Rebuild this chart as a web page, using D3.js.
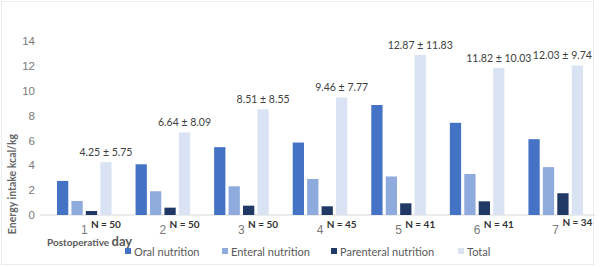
<!DOCTYPE html>
<html lang="en">
<head>
<meta charset="UTF-8">
<title>Energy intake by postoperative day</title>
<script src="https://cdnjs.cloudflare.com/ajax/libs/d3/7.8.5/d3.min.js"></script>
<style>
  * { margin: 0; padding: 0; box-sizing: border-box; }
  body { background: #fff; font-family: Lato, "Open Sans", "Liberation Sans", sans-serif; }
  #chart { width: 600px; height: 267px; }
  .tick text { fill: #7a7a7a; font-size: 11.5px; }
  .lbl { fill: #404040; font-size: 10.5px; }
  .nlbl { fill: #333; font-size: 10px; font-weight: bold; }
  .legend text { fill: #595959; font-size: 11px; }
</style>
</head>
<body>
<div id="chart"></div>
<script>
  // chart data
  const days = ["1", "2", "3", "4", "5", "6", "7"];
  const series = ["Oral nutrition", "Enteral nutrition", "Parenteral nutrition", "Total"];
  const oral = [2.74, 4.08, 5.46, 5.83, 8.85, 7.42, 6.10];
  const enteral = [1.13, 1.91, 2.31, 2.90, 3.10, 3.30, 3.85];
  const parenteral = [0.32, 0.59, 0.75, 0.70, 0.94, 1.10, 1.75];
  const total = [4.25, 6.64, 8.51, 9.46, 12.87, 11.82, 12.03];
  const totalLabels = ["4.25 ± 5.75", "6.64 ± 8.09", "8.51 ± 8.55", "9.46 ± 7.77",
                       "12.87 ± 11.83", "11.82 ± 10.03", "12.03 ±  9.74"];
  const nLabels = ["N = 50", "N = 50", "N = 50", "N = 45", "N = 41", "N = 41", "N = 34"];
  const yTicks = [0, 2, 4, 6, 8, 10, 12, 14];
  const colors = ["#4472c4", "#8faadc", "#203864", "#dae3f3"];

  const W = 600, H = 267;
  const margin = {top: 41, right: 5, bottom: 52, left: 45};
  const svg = d3.select("#chart").append("svg").attr("width", W).attr("height", H);

  // faint outer frame
  svg.append("rect").attr("x", 1.5).attr("y", 1.5).attr("width", 592).attr("height", 263)
    .attr("fill", "none").attr("stroke", "#ececec");

  const x = d3.scaleBand().domain(days).range([margin.left, W - margin.right]);
  const sub = d3.scaleBand().domain(series).range([12, x.bandwidth() - 12]).paddingInner(0.22);
  const y = d3.scaleLinear().domain([0, 14]).range([H - margin.bottom, margin.top]);

  const rows = days.map((d, i) => ({day: d, vals: [oral[i], enteral[i], parenteral[i], total[i]], i}));

  // y axis (labels only)
  const yAxis = svg.append("g").attr("transform", `translate(${margin.left - 8},0)`)
    .call(d3.axisLeft(y).tickValues(yTicks).tickSize(0).tickPadding(2));
  yAxis.select(".domain").remove();

  // baseline
  svg.append("line").attr("x1", 40).attr("x2", W - margin.right)
    .attr("y1", y(0)).attr("y2", y(0)).attr("stroke", "#d9d9d9");

  // bars
  const groups = svg.selectAll(".grp").data(rows).enter().append("g")
    .attr("transform", d => `translate(${x(d.day)},0)`);
  groups.selectAll("rect").data(d => d.vals.map((v, k) => ({v, k}))).enter().append("rect")
    .attr("x", d => sub(series[d.k]))
    .attr("width", sub.bandwidth())
    .attr("y", d => y(d.v))
    .attr("height", d => y(0) - y(d.v))
    .attr("fill", d => colors[d.k]);

  // day labels
  const xAxis = svg.append("g").attr("transform", `translate(0,${y(0)})`)
    .call(d3.axisBottom(x).tickSize(0).tickPadding(10));
  xAxis.select(".domain").remove();
  xAxis.selectAll(".tick text").style("font-size", "12px");

  // mean ± sd labels above total bars
  groups.append("text").attr("class", "lbl")
    .attr("x", (d, i) => {
      const cx = sub("Total") + sub.bandwidth() / 2;
      return i === days.length - 1 ? cx - 15 : cx;
    })
    .attr("y", d => y(d.vals[3]) - 6)
    .attr("text-anchor", "middle")
    .text(d => totalLabels[d.i]);

  // N labels
  groups.append("text").attr("class", "nlbl")
    .attr("x", sub("Total") + sub.bandwidth() / 2)
    .attr("y", (d, i) => y(0) + (i === days.length - 1 ? 11 : 13))
    .attr("text-anchor", "middle")
    .text(d => nLabels[d.i]);

  // axis titles
  svg.append("text").attr("transform", "rotate(-90)")
    .attr("x", -184).attr("y", 16).attr("text-anchor", "middle")
    .style("font-size", "10.5px").style("font-weight", "bold").attr("fill", "#666")
    .text("Energy intake kcal/kg");
  const xt = svg.append("text").attr("x", 47).attr("y", 246).attr("fill", "#595959");
  xt.append("tspan").style("font-size", "10px").style("font-weight", "bold").text("Postoperative ");
  xt.append("tspan").style("font-size", "13px").style("font-weight", "bold").text("day");

  // legend
  const legX = [125, 222, 331, 458];
  const legend = svg.append("g").attr("class", "legend");
  series.forEach((s, k) => {
    legend.append("rect").attr("x", legX[k]).attr("y", 248).attr("width", 6).attr("height", 6)
      .attr("fill", colors[k]);
    legend.append("text").attr("x", legX[k] + 9).attr("y", 255.5).text(s);
  });
</script>
</body>
</html>
